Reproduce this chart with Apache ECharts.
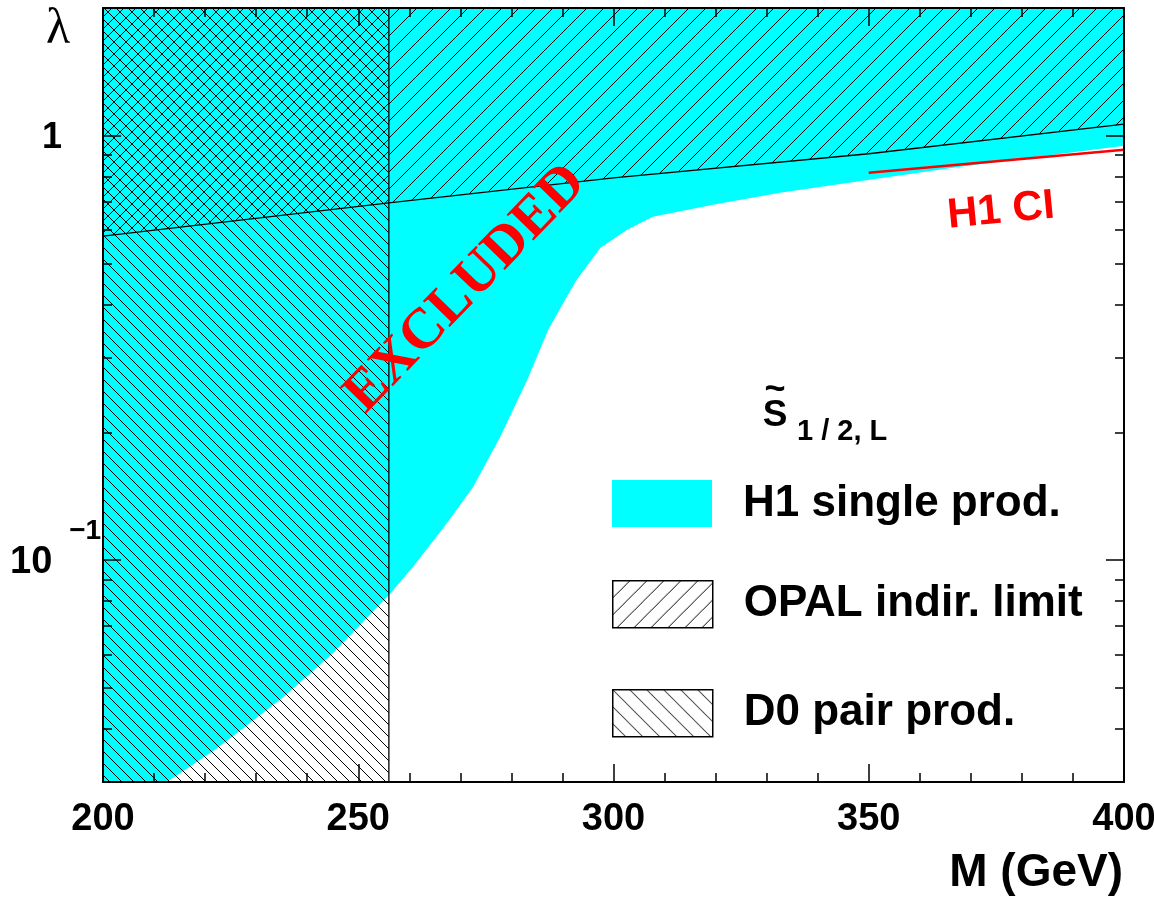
<!DOCTYPE html>
<html><head><meta charset="utf-8">
<script src="https://cdn.jsdelivr.net/npm/echarts@6/dist/echarts.min.js"></script>
<style>html,body{margin:0;padding:0;background:#fff}#c{width:1154px;height:900px}</style>
</head><body><div id="c"></div>
<script>
// ---- axis ranges and tick labels ----
const xRange = [200, 400];
const yRange = [0.03, 2];
const xTickStep = 50;
const yTickValues = [0.1, 1];
const yTickLabels = ['10|−1', '1'];

// ---- H1 single production exclusion boundary (lambda vs mass) ----
const h1Mass   = [212.5, 222.3, 235.3, 245.1, 256.2, 260.7, 267.4, 272.5, 277.8, 283.1, 287.2, 290.5, 292.8, 297.4, 302.6, 307.7, 319.5, 332.6, 350.2, 367.9, 400];
const h1Lambda = [0.030, 0.036, 0.0475, 0.0604, 0.0832, 0.0963, 0.1223, 0.1486, 0.195, 0.2657, 0.3487, 0.4104, 0.4575, 0.544, 0.600, 0.644, 0.688, 0.734, 0.788, 0.845, 0.947];

// ---- OPAL indirect limit ----
const opalMass   = [200, 256, 300, 350, 400];
const opalLambda = [0.58, 0.695, 0.796, 0.907, 1.065];

// ---- D0 pair production mass limit ----
const d0Mass = 256;

// ---- H1 contact interaction limit ----
const ciMass   = [350, 400];
const ciLambda = [0.818, 0.927];

const FONT = '"Liberation Sans", Arial, Helvetica, sans-serif';
const SERIF = '"Liberation Serif", "Times New Roman", serif';

function hatch(period, dir) {
  const c = document.createElement('canvas');
  c.width = period; c.height = period;
  const ctx = c.getContext('2d');
  ctx.fillStyle = '#000';
  for (let i = 0; i < period; i++) {
    const y = dir === '/' ? period - 1 - i : i;
    ctx.fillRect(i, y, 1, 1);
  }
  return { image: c, repeat: 'repeat' };
}

const cyan = '#00FFFF';
const opalFill = hatch(17, '/');
const opalDenseFill = hatch(12, '/');
const d0Fill = hatch(12, '\\');
const opalLegendFill = hatch(17, '/');
const d0LegendFill = hatch(17, '\\');

const opalPts = opalMass.map((m, i) => [m, opalLambda[i]]);
const h1Poly = [[xRange[0], yRange[0]]]
  .concat(h1Mass.map((m, i) => [m, h1Lambda[i]]))
  .concat([[xRange[1], yRange[1]], [xRange[0], yRange[1]]]);
const opalPolyRight = opalPts.filter(p => p[0] >= d0Mass)
  .concat([[xRange[1], yRange[1]], [d0Mass, yRange[1]]]);
const opalPolyLeft = opalPts.filter(p => p[0] <= d0Mass)
  .concat([[d0Mass, yRange[1]], [xRange[0], yRange[1]]]);
const d0Poly = [[xRange[0], yRange[0]], [d0Mass, yRange[0]], [d0Mass, yRange[1]], [xRange[0], yRange[1]]];

function polySeries(name, verts, fill, z) {
  return {
    type: 'custom', name: name, coordinateSystem: 'cartesian2d', z: z, silent: true,
    data: verts, encode: { x: 0, y: 1 },
    itemStyle: { color: fill },
    renderItem: function (params, api) {
      if (params.dataIndex !== 0) return null;
      const pts = verts.map(v => api.coord(v));
      return { type: 'polygon', shape: { points: pts }, style: { fill: fill, stroke: null } };
    }
  };
}

function lineSeries(name, pts, color, width, z) {
  return {
    type: 'line', name: name, data: pts, symbol: 'none', showSymbol: false, silent: true, z: z,
    lineStyle: { color: color, width: width }, animation: false
  };
}

const tickCommon = { show: true, inside: true, length: 18, lineStyle: { color: '#000', width: 1.5 } };
const minorCommon = { show: true, length: 9, lineStyle: { color: '#000', width: 1.5 } };

function xAx(pos, labels) {
  return {
    type: 'value', position: pos, min: xRange[0], max: xRange[1], interval: xTickStep, z: 10,
    axisLine: { show: true, onZero: false, lineStyle: { color: '#000', width: 2 } },
    axisTick: tickCommon,
    minorTick: Object.assign({ splitNumber: 5 }, minorCommon),
    splitLine: { show: false },
    axisLabel: labels ? { show: true, color: '#000', fontSize: 38, fontWeight: 'bold', fontFamily: FONT, margin: 19 } : { show: false },
    name: labels ? 'M (GeV)' : '',
    nameLocation: 'end', nameGap: -1,
    nameTextStyle: { color: '#000', fontSize: 46, fontWeight: 'bold', fontFamily: FONT, align: 'right', verticalAlign: 'top', padding: [68, 0, 0, 0] }
  };
}

function yAx(pos, labels) {
  return {
    type: 'log', logBase: 10, position: pos, min: yRange[0], max: yRange[1], z: 10,
    axisLine: { show: true, onZero: false, lineStyle: { color: '#000', width: 2 } },
    axisTick: tickCommon,
    minorTick: Object.assign({ splitNumber: 9 }, minorCommon),
    splitLine: { show: false },
    axisLabel: labels ? {
      show: true, align: 'left', margin: 93, color: '#000',
      formatter: function (v) {
        for (let i = 0; i < yTickValues.length; i++) {
          if (Math.abs(v - yTickValues[i]) < 1e-9) {
            const parts = yTickLabels[i].split('|');
            if (parts.length === 1) return '{one|' + parts[0] + '}';
            return '{ten|' + parts[0] + '}{sup|' + parts[1] + '}';
          }
        }
        return '';
      },
      rich: {
        one: { fontSize: 36, fontWeight: 'bold', fontFamily: FONT, color: '#000', width: 52, align: 'right', padding: [5, 0, 0, 0] },
        ten: { fontSize: 38, fontWeight: 'bold', fontFamily: FONT, color: '#000', padding: [5, 0, 0, 0] },
        sup: { fontSize: 28, fontWeight: 'bold', fontFamily: FONT, color: '#000', padding: [0, 0, 58, 17] }
      }
    } : { show: false },
    name: labels ? 'λ' : '',
    nameLocation: 'end', nameGap: -22,
    nameTextStyle: { color: '#000', fontSize: 50, fontFamily: SERIF, align: 'center', verticalAlign: 'middle', padding: [0, 90, 0, 0] }
  };
}

function legendBox(top, name, fill, bordered) {
  return {
    left: 612, top: top, padding: 0, orient: 'vertical', selectedMode: false,
    itemWidth: 100, itemHeight: 47,
    textStyle: { color: '#000', fontSize: 44, fontWeight: 'bold', fontFamily: FONT, padding: [4, 0, 0, 26] },
    data: [{ name: name, icon: 'rect', itemStyle: bordered ? { color: fill, borderColor: '#000', borderWidth: 1.5 } : { color: fill, borderWidth: 0 } }]
  };
}

const chart = echarts.init(document.getElementById('c'), null, { renderer: 'canvas' });
chart.setOption({
  animation: false,
  backgroundColor: '#fff',
  grid: { left: 103, right: 30, top: 8, bottom: 118, containLabel: false, outerBoundsMode: 'none' },
  xAxis: [xAx('bottom', true), xAx('top', false)],
  yAxis: [yAx('left', true), yAx('right', false)],
  legend: [
    legendBox(480, 'H1 single prod.', cyan, false),
    legendBox(580, 'OPAL indir. limit', opalLegendFill, true),
    legendBox(689, 'D0 pair prod.', d0LegendFill, true)
  ],
  series: [
    polySeries('H1 single prod.', h1Poly, cyan, 1),
    polySeries('OPAL indir. limit', opalPolyRight, opalFill, 2),
    polySeries('OPAL indir. limit (overlap)', opalPolyLeft, opalDenseFill, 2),
    polySeries('D0 pair prod.', d0Poly, d0Fill, 2),
    lineSeries('OPAL boundary', opalPts, '#000', 1.3, 3),
    lineSeries('D0 boundary', [[d0Mass, yRange[0]], [d0Mass, yRange[1]]], '#000', 1.3, 3),
    lineSeries('H1 CI', ciMass.map((m, i) => [m, ciLambda[i]]), '#FF0000', 2.5, 3)
  ],
  graphic: [
    { type: 'text', x: 466, y: 289, rotation: 46 * Math.PI / 180, z: 20,
      style: { text: 'EXCLUDED', fontSize: 57, fontWeight: 'bold', fontFamily: SERIF, fill: '#FF0000', align: 'center', verticalAlign: 'middle' } },
    { type: 'text', x: 1001, y: 211, rotation: 5.5 * Math.PI / 180, z: 20,
      style: { text: 'H1 CI', fontSize: 42, fontWeight: 'bold', fontFamily: FONT, fill: '#FF0000', align: 'center', verticalAlign: 'middle' } },
    { type: 'text', x: 775, y: 390, z: 20,
      style: { text: '~', fontSize: 36, fontWeight: 'bold', fontFamily: FONT, fill: '#000', align: 'center', verticalAlign: 'middle' } },
    { type: 'text', x: 775, y: 416, z: 20,
      style: { text: 'S', fontSize: 37, fontWeight: 'bold', fontFamily: FONT, fill: '#000', align: 'center', verticalAlign: 'middle' } },
    { type: 'text', x: 797, y: 432, z: 20,
      style: { text: '1 / 2, L', fontSize: 29, fontWeight: 'bold', fontFamily: FONT, fill: '#000', align: 'left', verticalAlign: 'middle' } }
  ]
});
</script>
</body></html>
